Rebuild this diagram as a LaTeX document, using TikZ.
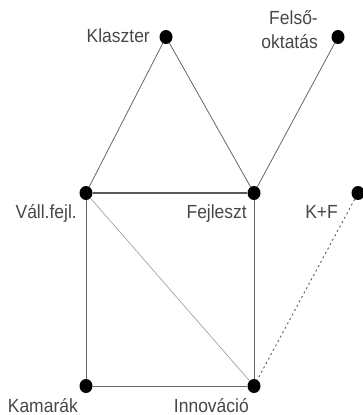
\documentclass[tikz,border=0pt]{standalone}
\usepackage{fontspec}
\usetikzlibrary{shapes.geometric}
\setmainfont{Liberation Sans}[FakeStretch=0.92]
\begin{document}
\begin{tikzpicture}[x=1pt,y=-1pt,
  dot/.style={ellipse,fill=black,inner sep=0pt,minimum width=13pt,minimum height=14pt},
  lbl/.style={text=black!72,font=\fontsize{19}{24}\selectfont,inner sep=0pt},
  edge/.style={draw=black!60,line width=0.8pt},
  thickedge/.style={draw=black!65,line width=2.4pt},
  lightedge/.style={draw=black!40,line width=0.6pt},
  dotedge/.style={draw=black!60,line width=1pt,dash pattern=on 2pt off 3pt}]
\useasboundingbox (0,0) rectangle (363,415);
\node[dot] (kl) at (166,37) {};
\node[dot] (fo) at (338,37) {};
\node[dot] (vf) at (86,193) {};
\node[dot] (fe) at (254,193) {};
\node[dot] (kf) at (358,193) {};
\node[dot] (ka) at (86,386) {};
\node[dot] (in) at (254,386) {};
\node[lbl,anchor=base east] (tkl) at (150,42) {Klaszter};
\node[lbl,anchor=east,align=right] (tfo) at (318,30) {Felső-\\oktatás};
\node[lbl,anchor=base east] (tvf) at (77,218) {Váll.fejl.};
\node[lbl,anchor=base east] (tfe) at (247,218) {Fejleszt};
\node[lbl,anchor=base east] (tkf) at (338,218) {K+F};
\node[lbl,anchor=base east] (tka) at (78,412) {Kamarák};
\node[lbl,anchor=base east] (tin) at (249,412) {Innováció};
\draw[edge] (kl) -- (vf);
\draw[edge] (kl) -- (fe);
\draw[edge] (fo) -- (fe);
\draw[thickedge] (vf) -- (fe);
\draw[edge] (vf) -- (ka);
\draw[edge] (fe) -- (in);
\draw[edge] (ka) -- (in);
\draw[lightedge] (vf) -- (in);
\draw[dotedge] (kf) -- (in);
\end{tikzpicture}
\end{document}
